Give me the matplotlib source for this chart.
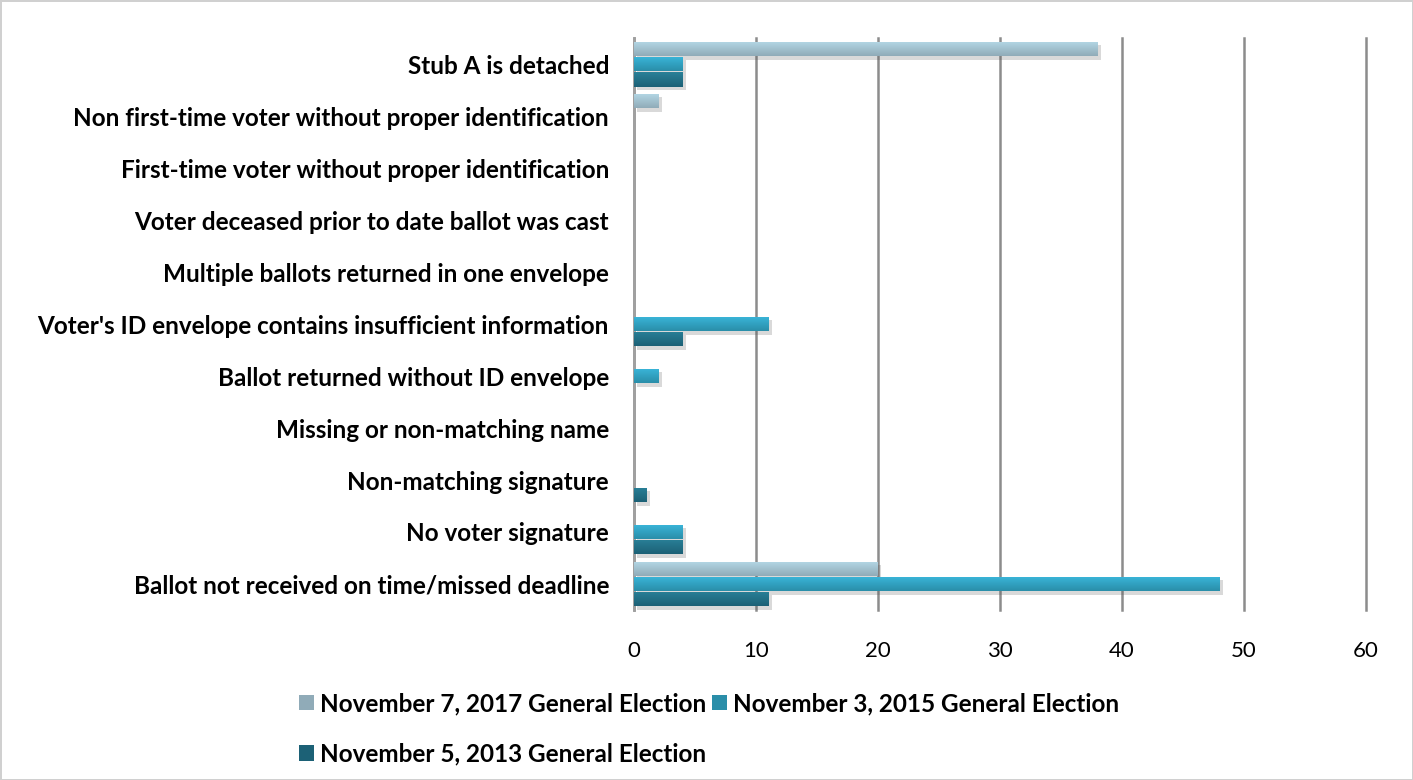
import matplotlib
matplotlib.use('Agg')
import matplotlib.pyplot as plt
import matplotlib.patheffects as pe
from matplotlib.patches import Patch
import numpy as np

categories = [
    'Ballot not received on time/missed deadline',
    'No voter signature',
    'Non-matching signature',
    'Missing or non-matching name',
    'Ballot returned without ID envelope',
    "Voter's ID envelope contains insufficient information",
    'Multiple ballots returned in one envelope',
    'Voter deceased prior to date ballot was cast',
    'First-time voter without proper identification',
    'Non first-time voter without proper identification',
    'Stub A is detached',
]
series_names = [
    'November 7, 2017 General Election',
    'November 3, 2015 General Election',
    'November 5, 2013 General Election',
]
v2017 = [20, 0, 0, 0, 0, 0, 0, 0, 0, 2, 38]
v2015 = [48, 4, 0, 0, 2, 11, 0, 0, 0, 0, 4]
v2013 = [11, 4, 1, 0, 0, 4, 0, 0, 0, 0, 4]
x_ticks = [0, 10, 20, 30, 40, 50, 60]

# gradient colours (top, bottom) per series
grads = [('#b4d8e6', '#90abb8'), ('#3ab6da', '#2a8ea9'), ('#2a8098', '#1c6176')]

plt.rcParams['font.family'] = ['Lato', 'DejaVu Sans']

fig = plt.figure(figsize=(14.13, 7.8), dpi=100)
fig.patch.set_edgecolor('#d0d0d0')
fig.patch.set_linewidth(2)
ax = fig.add_axes([0.4487, 0.218, 0.5180, 0.733])

y = np.arange(len(categories))
h = 0.28
offsets = [h + 0.01, 0, -(h + 0.01)]
all_vals = [v2017, v2015, v2013]

for vals, off, (ctop, cbot) in zip(all_vals, offsets, grads):
    bars = ax.barh(y + off, vals, height=h, color=cbot, zorder=3,
                   path_effects=[pe.SimplePatchShadow(offset=(2.5, -2.5), alpha=0.22, shadow_rgbFace='#555555'),
                                 pe.Normal()])
    cmap = matplotlib.colors.LinearSegmentedColormap.from_list('g', [ctop, cbot])
    grad = np.linspace(0, 1, 64).reshape(-1, 1)
    for p in bars.patches:
        if p.get_width() <= 0:
            continue
        x0, y0 = p.get_x(), p.get_y()
        im = ax.imshow(grad, cmap=cmap, aspect='auto', zorder=4,
                       extent=(x0, x0 + p.get_width(), y0, y0 + p.get_height()),
                       origin='upper')
        im.set_clip_path(p)

ax.set_xlim(0, 60)
ax.set_ylim(-0.5, len(categories) - 0.5)
ax.set_xticks(x_ticks)
ax.set_yticks(y)
ax.set_yticklabels(categories, fontsize=17.5, fontweight='bold')
ax.tick_params(axis='x', labelsize=16, length=0, pad=22)
ax.tick_params(axis='y', length=0, pad=18)
ax.grid(axis='x', color='#8c8c8c', linewidth=1.8, zorder=0)
for gl in ax.get_xgridlines():
    gl.set_clip_on(False)
for s in ['top', 'right', 'bottom']:
    ax.spines[s].set_visible(False)
ax.spines['left'].set_color('#a0a0a0')
ax.spines['left'].set_linewidth(2)

leg_handles = [Patch(facecolor=grads[i][1]) for i in (0, 2, 1)]
fig.legend(leg_handles, [series_names[0], series_names[2], series_names[1]],
           loc='upper left', bbox_to_anchor=(0.205, 0.125), ncol=2, frameon=False,
           prop={'size': 17.5, 'weight': 'bold'}, handlelength=0.6, handleheight=0.6,
           handletextpad=0.25, columnspacing=0.25, labelspacing=1.12, borderaxespad=0)

fig.savefig('out.png', dpi=100)
